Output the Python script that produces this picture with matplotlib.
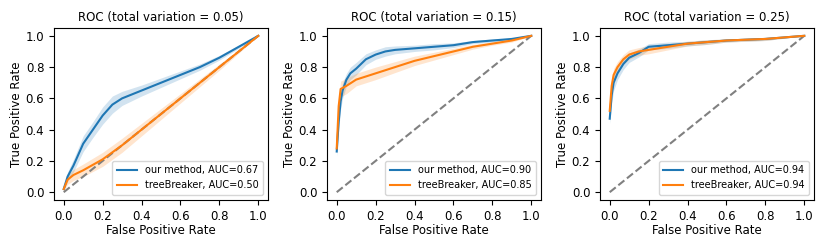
import matplotlib

matplotlib.use("Agg")
import matplotlib.pyplot as plt  # noqa: E402
import numpy as np  # noqa: E402

titles = ["ROC (total variation = 0.05)", "ROC (total variation = 0.15)", "ROC (total variation = 0.25)"]

# panel 1
ours1_fpr = [0.0, 0.02, 0.05, 0.1, 0.15, 0.2, 0.25, 0.3, 0.4, 0.5, 0.6, 0.7, 0.8, 0.9, 1.0]
ours1_tpr = [0.02, 0.10, 0.17, 0.31, 0.40, 0.49, 0.56, 0.60, 0.65, 0.70, 0.75, 0.80, 0.86, 0.93, 1.0]
ours1_std = [0.01, 0.03, 0.04, 0.05, 0.05, 0.055, 0.055, 0.045, 0.035, 0.03, 0.025, 0.02, 0.015, 0.01, 0.0]
tree1_fpr = [0.0, 0.02, 0.05, 0.1, 0.2, 0.3, 0.4, 0.5, 0.6, 0.7, 0.8, 0.9, 1.0]
tree1_tpr = [0.02, 0.08, 0.11, 0.14, 0.21, 0.30, 0.40, 0.50, 0.60, 0.70, 0.80, 0.90, 1.0]
tree1_std = [0.01, 0.03, 0.035, 0.04, 0.045, 0.045, 0.04, 0.035, 0.03, 0.025, 0.02, 0.01, 0.0]

# panel 2
ours2_fpr = [0.0, 0.01, 0.02, 0.03, 0.05, 0.07, 0.1, 0.15, 0.2, 0.25, 0.3, 0.4, 0.5, 0.6, 0.7, 0.8, 0.9, 1.0]
ours2_tpr = [0.26, 0.45, 0.58, 0.65, 0.72, 0.76, 0.79, 0.85, 0.88, 0.90, 0.91, 0.92, 0.93, 0.94, 0.96, 0.97, 0.98, 1.0]
ours2_std = [0.03, 0.05, 0.05, 0.05, 0.04, 0.04, 0.04, 0.035, 0.03, 0.03, 0.025, 0.02, 0.02, 0.015, 0.01, 0.01, 0.005, 0.0]
tree2_fpr = [0.0, 0.01, 0.02, 0.05, 0.1, 0.2, 0.3, 0.4, 0.5, 0.6, 0.7, 0.8, 0.9, 1.0]
tree2_tpr = [0.28, 0.55, 0.66, 0.68, 0.72, 0.76, 0.80, 0.84, 0.87, 0.90, 0.93, 0.95, 0.97, 1.0]
tree2_std = [0.03, 0.05, 0.05, 0.05, 0.04, 0.04, 0.035, 0.03, 0.025, 0.02, 0.015, 0.01, 0.01, 0.0]

# panel 3
ours3_fpr = [0.0, 0.01, 0.02, 0.04, 0.07, 0.1, 0.15, 0.2, 0.3, 0.4, 0.5, 0.6, 0.7, 0.8, 0.9, 1.0]
ours3_tpr = [0.47, 0.62, 0.70, 0.76, 0.82, 0.86, 0.89, 0.93, 0.94, 0.95, 0.96, 0.97, 0.975, 0.98, 0.99, 1.0]
ours3_std = [0.03, 0.05, 0.05, 0.04, 0.035, 0.03, 0.025, 0.02, 0.02, 0.015, 0.015, 0.01, 0.01, 0.01, 0.005, 0.0]
tree3_fpr = [0.0, 0.01, 0.02, 0.04, 0.07, 0.1, 0.15, 0.2, 0.3, 0.4, 0.5, 0.6, 0.7, 0.8, 0.9, 1.0]
tree3_tpr = [0.52, 0.68, 0.75, 0.80, 0.85, 0.88, 0.90, 0.91, 0.93, 0.95, 0.96, 0.97, 0.975, 0.98, 0.99, 1.0]
tree3_std = [0.03, 0.05, 0.04, 0.035, 0.03, 0.03, 0.025, 0.025, 0.02, 0.015, 0.015, 0.01, 0.01, 0.01, 0.005, 0.0]

ours_auc = [0.67, 0.90, 0.94]
tree_auc = [0.50, 0.85, 0.94]

panels = [
    (ours1_fpr, ours1_tpr, ours1_std, tree1_fpr, tree1_tpr, tree1_std),
    (ours2_fpr, ours2_tpr, ours2_std, tree2_fpr, tree2_tpr, tree2_std),
    (ours3_fpr, ours3_tpr, ours3_std, tree3_fpr, tree3_tpr, tree3_std),
]

fig = plt.figure(figsize=(8.3, 2.49), dpi=100)
lefts = [54, 327, 600]
for i, (of, ot, os_, tf, tt, ts) in enumerate(panels):
    ax = fig.add_axes([lefts[i] / 830, (249 - 200) / 249, 214 / 830, 172 / 249])
    ax.plot([0, 1], [0, 1], "--", color="gray", lw=1.5)
    for fpr, tpr, std, color, name, auc in (
        (of, ot, os_, "#1f77b4", "our method", ours_auc[i]),
        (tf, tt, ts, "#ff7f0e", "treeBreaker", tree_auc[i]),
    ):
        fpr, tpr, std = np.array(fpr), np.array(tpr), np.array(std)
        ax.plot(fpr, tpr, color=color, lw=1.5, label=f"{name}, AUC={auc:.2f}")
        ax.fill_between(fpr, tpr - std, np.minimum(tpr + std, 1.0), color=color, alpha=0.2, linewidth=0)
    ax.set_xlim(-0.05, 1.05)
    ax.set_ylim(-0.05, 1.05)
    ax.set_xticks([0.0, 0.2, 0.4, 0.6, 0.8, 1.0])
    ax.set_yticks([0.0, 0.2, 0.4, 0.6, 0.8, 1.0])
    ax.tick_params(labelsize=8.5, length=3.5)
    ax.set_xlabel("False Positive Rate", fontsize=8.5, labelpad=1)
    ax.set_ylabel("True Positive Rate", fontsize=8.5, labelpad=2)
    ax.set_title(titles[i], fontsize=8.5, pad=5)
    ax.legend(loc="lower right", fontsize=7, handlelength=2.0, borderpad=0.5)

fig.savefig("out.png", dpi=100)
